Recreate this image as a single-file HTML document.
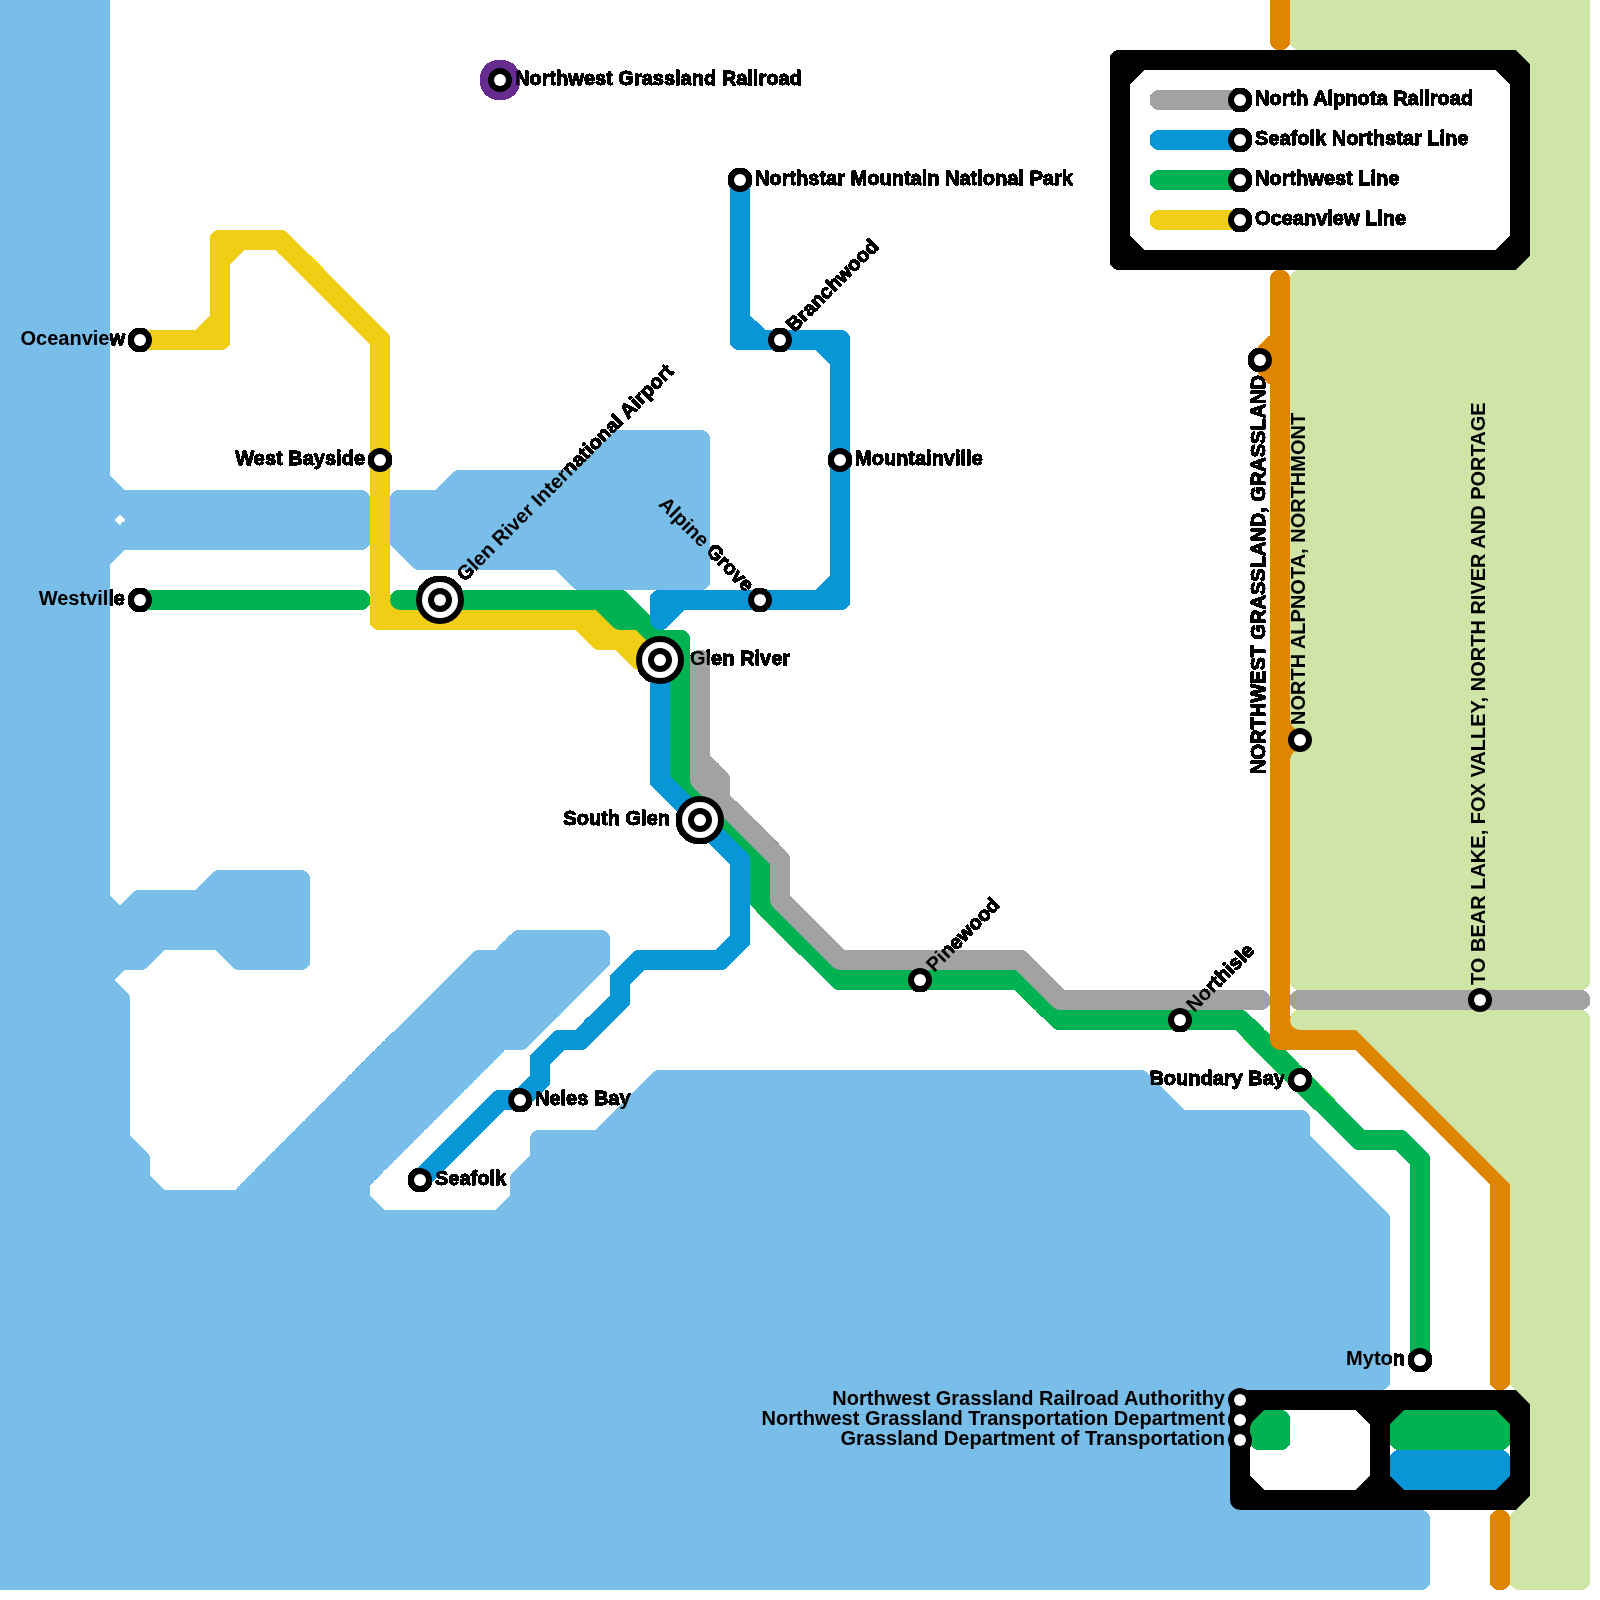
<!DOCTYPE html>
<html><head><meta charset="utf-8"><title>Northwest Grassland Railroad</title>
<style>
html,body{margin:0;padding:0;background:#fff}
svg{display:block}
text{font-family:"Liberation Sans",sans-serif;font-weight:700;font-size:20px;fill:#000;stroke:#000;stroke-opacity:.02;stroke-width:.9px;stroke-linejoin:miter}
</style></head><body>
<svg width="1600" height="1600" viewBox="0 0 1600 1600">
<defs>
<filter id="op" filterUnits="userSpaceOnUse" x="0" y="0" width="1600" height="1600" color-interpolation-filters="sRGB">
<feComponentTransfer><feFuncA type="linear" slope="255" intercept="-1"/></feComponentTransfer>
</filter>
</defs>
<rect width="1600" height="1600" fill="#fff"/>
<g filter="url(#op)">
<g fill="none" stroke-width="20" stroke-linecap="round" stroke-linejoin="round">
<path stroke="#79bde9" d="M0 0L100 0M0 20L100 20M0 40L100 40M0 60L100 60M0 80L100 80M0 100L100 100M0 120L100 120M0 140L100 140M0 160L100 160M0 180L100 180M0 200L100 200M0 220L100 220M0 240L100 240M0 260L100 260M0 280L100 280M0 300L100 300M0 320L100 320M0 340L100 340M0 360L100 360M0 380L100 380M0 400L100 400M0 420L100 420M0 440L100 440M0 460L100 460M0 480L100 480M0 500L360 500M0 520L100 520M0 540L360 540M0 560L100 560M0 580L100 580M0 600L100 600M0 620L100 620M0 640L100 640M0 660L100 660M0 680L100 680M0 700L100 700M0 720L100 720M0 740L100 740M0 760L100 760M0 780L100 780M0 800L100 800M0 820L100 820M0 840L100 840M0 860L100 860M0 880L100 880M0 900L100 900M0 920L300 920M0 940L300 940M0 960L140 960M0 980L100 980M0 1000L120 1000M0 1020L120 1020M0 1040L120 1040M0 1060L120 1060M0 1080L120 1080M0 1100L120 1100M0 1120L120 1120M0 1140L120 1140M0 1160L140 1160M0 1180L140 1180M0 1200L360 1200M0 1220L1380 1220M0 1240L1380 1240M0 1260L1380 1260M0 1280L1380 1280M0 1300L1380 1300M0 1320L1380 1320M0 1340L1380 1340M0 1360L1380 1360M0 1380L1380 1380M0 1400L1220 1400M0 1420L1220 1420M0 1440L1220 1440M0 1460L1220 1460M0 1480L1220 1480M0 1500L1220 1500M0 1520L1420 1520M0 1540L1420 1540M0 1560L1420 1560M0 1580L1420 1580M140 520L360 520M140 900L300 900M220 880L300 880M240 960L300 960M260 1180L360 1180M280 1160L380 1160M300 1140L400 1140M320 1120L420 1120M340 1100L440 1100M360 1080L460 1080M380 1060L480 1060M400 500L700 500M400 520L700 520M400 540L700 540M400 1040L520 1040M420 560L700 560M420 1020L540 1020M440 1000L560 1000M460 480L700 480M460 980L580 980M480 960L600 960M520 940L600 940M520 1180L1340 1180M520 1200L1360 1200M540 1140L1300 1140M540 1160L1320 1160M580 580L700 580M600 460L700 460M620 440L700 440M620 1120L1300 1120M640 1100L1160 1100M660 1080L1140 1080M0 0L0 1580M20 0L20 1580M40 0L40 1580M60 0L60 1580M80 0L80 1580M100 0L100 1580M120 920L120 960M120 1000L120 1580M140 500L140 540M140 900L140 960M140 1160L140 1580M160 500L160 540M160 900L160 940M160 1200L160 1580M180 500L180 540M180 900L180 940M180 1200L180 1580M200 500L200 540M200 900L200 940M200 1200L200 1580M220 500L220 540M220 880L220 940M220 1200L220 1580M240 500L240 540M240 880L240 960M240 1200L240 1580M260 500L260 540M260 880L260 960M260 1180L260 1580M280 500L280 540M280 880L280 960M280 1160L280 1580M300 500L300 540M300 880L300 960M300 1140L300 1580M320 500L320 540M320 1120L320 1580M340 500L340 540M340 1100L340 1580M360 500L360 540M360 1080L360 1580M380 1060L380 1160M380 1220L380 1580M400 500L400 540M400 1040L400 1140M400 1220L400 1580M420 500L420 560M420 1020L420 1120M420 1220L420 1580M440 500L440 560M440 1000L440 1100M440 1220L440 1580M460 480L460 560M460 980L460 1080M460 1220L460 1580M480 480L480 560M480 960L480 1060M480 1220L480 1580M500 480L500 560M500 960L500 1040M500 1220L500 1580M520 480L520 560M520 940L520 1040M520 1180L520 1580M540 480L540 560M540 940L540 1020M540 1140L540 1580M560 480L560 560M560 940L560 1000M560 1140L560 1580M580 480L580 580M580 940L580 980M580 1140L580 1580M600 460L600 580M600 940L600 960M600 1140L600 1580M620 440L620 580M620 1120L620 1580M640 440L640 580M640 1100L640 1580M660 440L660 580M660 1080L660 1580M680 440L680 580M680 1080L680 1580M700 440L700 580M700 1080L700 1580M720 1080L720 1580M740 1080L740 1580M760 1080L760 1580M780 1080L780 1580M800 1080L800 1580M820 1080L820 1580M840 1080L840 1580M860 1080L860 1580M880 1080L880 1580M900 1080L900 1580M920 1080L920 1580M940 1080L940 1580M960 1080L960 1580M980 1080L980 1580M1000 1080L1000 1580M1020 1080L1020 1580M1040 1080L1040 1580M1060 1080L1060 1580M1080 1080L1080 1580M1100 1080L1100 1580M1120 1080L1120 1580M1140 1080L1140 1580M1160 1100L1160 1580M1180 1120L1180 1580M1200 1120L1200 1580M1220 1120L1220 1580M1240 1120L1240 1380M1240 1520L1240 1580M1260 1120L1260 1380M1260 1520L1260 1580M1280 1120L1280 1380M1280 1520L1280 1580M1300 1120L1300 1380M1300 1520L1300 1580M1320 1160L1320 1380M1320 1520L1320 1580M1340 1180L1340 1380M1340 1520L1340 1580M1360 1200L1360 1380M1360 1520L1360 1580M1380 1220L1380 1380M1380 1520L1380 1580M1400 1520L1400 1580M1420 1520L1420 1580M0 0L100 100M0 20L100 120M0 40L100 140M0 60L100 160M0 80L100 180M0 100L100 200M0 120L100 220M0 140L100 240M0 160L100 260M0 180L100 280M0 200L100 300M0 220L100 320M0 240L100 340M0 260L100 360M0 280L100 380M0 300L100 400M0 320L100 420M0 340L100 440M0 360L100 460M0 380L160 540M0 400L100 500M0 420L120 540M0 440L100 540M0 460L100 560M0 480L100 580M0 500L100 600M0 520L100 620M0 540L100 640M0 560L100 660M0 580L100 680M0 600L100 700M0 620L100 720M0 640L100 740M0 660L100 760M0 680L100 780M0 700L100 800M0 720L100 820M0 740L100 840M0 760L100 860M0 780L100 880M0 800L140 940M0 820L140 960M0 840L120 960M0 860L100 960M0 880L120 1000M0 900L120 1020M0 920L120 1040M0 940L120 1060M0 960L120 1080M0 980L120 1100M0 1000L120 1120M0 1020L140 1160M0 1040L540 1580M0 1060L520 1580M0 1080L500 1580M0 1100L480 1580M0 1120L460 1580M0 1140L440 1580M0 1160L420 1580M0 1180L400 1580M0 1200L380 1580M0 1220L360 1580M0 1240L340 1580M0 1260L320 1580M0 1280L300 1580M0 1300L280 1580M0 1320L260 1580M0 1340L240 1580M0 1360L220 1580M0 1380L200 1580M0 1400L180 1580M0 1420L160 1580M0 1440L140 1580M0 1460L120 1580M0 1480L100 1580M0 1500L80 1580M0 1520L60 1580M0 1540L40 1580M0 1560L20 1580M20 0L100 80M40 0L100 60M60 0L100 40M80 0L100 20M140 500L180 540M140 900L180 940M140 920L160 940M160 500L200 540M160 900L200 940M180 500L220 540M180 900L240 960M180 1200L560 1580M200 500L240 540M200 900L260 960M200 1200L580 1580M220 500L260 540M220 880L300 960M220 900L280 960M220 1200L600 1580M240 500L280 540M240 880L300 940M240 1200L620 1580M260 500L300 540M260 880L300 920M260 1180L660 1580M260 1200L640 1580M280 500L320 540M280 880L300 900M280 1160L700 1580M280 1180L680 1580M300 500L340 540M300 1140L740 1580M300 1160L720 1580M320 500L360 540M320 1120L360 1160M320 1140L360 1180M340 500L360 520M340 1100L380 1140M340 1120L380 1160M360 1080L400 1120M360 1100L400 1140M380 1060L420 1100M380 1080L420 1120M400 500L460 560M400 520L440 560M400 540L420 560M400 1040L440 1080M400 1060L440 1100M400 1220L760 1580M420 500L480 560M420 1020L460 1060M420 1040L460 1080M420 1220L780 1580M440 500L500 560M440 1000L480 1040M440 1020L480 1060M440 1220L800 1580M460 480L540 560M460 500L520 560M460 980L520 1040M460 1000L500 1040M460 1220L820 1580M480 480L580 580M480 960L540 1020M480 980L520 1020M480 1220L840 1580M500 480L600 580M500 960L540 1000M500 1220L860 1580M520 480L620 580M520 940L560 980M520 960L560 1000M520 1180L920 1580M520 1200L900 1580M520 1220L880 1580M540 480L640 580M540 940L580 980M540 1140L980 1580M540 1160L960 1580M540 1180L940 1580M560 480L660 580M560 940L580 960M560 1140L1000 1580M580 480L680 580M580 940L600 960M580 1140L1020 1580M600 460L700 560M600 480L700 580M600 1140L1040 1580M620 440L700 520M620 460L700 540M620 1120L1080 1580M620 1140L1060 1580M640 440L700 500M640 1100L1120 1580M640 1120L1100 1580M660 440L700 480M660 1080L1160 1580M660 1100L1140 1580M680 440L700 460M680 1080L1180 1580M700 1080L1200 1580M720 1080L1220 1580M740 1080L1240 1580M760 1080L1260 1580M780 1080L1280 1580M800 1080L1300 1580M820 1080L1220 1480M840 1080L1220 1460M860 1080L1220 1440M880 1080L1220 1420M900 1080L1220 1400M920 1080L1220 1380M940 1080L1240 1380M960 1080L1260 1380M980 1080L1280 1380M1000 1080L1300 1380M1020 1080L1320 1380M1040 1080L1340 1380M1060 1080L1360 1380M1080 1080L1380 1380M1100 1080L1380 1360M1120 1080L1380 1340M1140 1080L1380 1320M1200 1120L1380 1300M1220 1120L1380 1280M1240 1120L1380 1260M1260 1120L1380 1240M1260 1520L1320 1580M1280 1120L1380 1220M1280 1520L1340 1580M1300 1520L1360 1580M1320 1520L1380 1580M1340 1520L1400 1580M1360 1520L1420 1580M1380 1520L1420 1560M1400 1520L1420 1540M0 20L20 0M0 40L40 0M0 60L60 0M0 80L80 0M0 100L100 0M0 120L100 20M0 140L100 40M0 160L100 60M0 180L100 80M0 200L100 100M0 220L100 120M0 240L100 140M0 260L100 160M0 280L100 180M0 300L100 200M0 320L100 220M0 340L100 240M0 360L100 260M0 380L100 280M0 400L100 300M0 420L100 320M0 440L100 340M0 460L100 360M0 480L100 380M0 500L100 400M0 520L100 420M0 540L100 440M0 560L100 460M0 580L100 480M0 600L100 500M0 620L120 500M0 640L100 540M0 660L160 500M0 680L100 580M0 700L100 600M0 720L100 620M0 740L100 640M0 760L100 660M0 780L100 680M0 800L100 700M0 820L100 720M0 840L100 740M0 860L100 760M0 880L100 780M0 900L100 800M0 920L100 820M0 940L100 840M0 960L100 860M0 980L100 880M0 1000L100 900M0 1020L100 920M0 1040L140 900M0 1060L160 900M0 1080L180 900M0 1100L100 1000M0 1120L120 1000M0 1140L120 1020M0 1160L120 1040M0 1180L120 1060M0 1200L120 1080M0 1220L120 1100M0 1240L120 1120M0 1260L120 1140M0 1280L120 1160M0 1300L140 1160M0 1320L140 1180M0 1340L140 1200M0 1360L160 1200M0 1380L180 1200M0 1400L200 1200M0 1420L220 1200M0 1440L480 960M0 1460L520 940M0 1480L540 940M0 1500L560 940M0 1520L580 940M0 1540L600 940M0 1560L360 1200M0 1580L360 1220M20 1580L380 1220M40 1580L400 1220M60 1580L420 1220M80 1580L440 1220M100 1580L460 1220M120 1580L480 1220M140 540L180 500M140 960L220 880M140 1580L580 1140M160 540L200 500M160 1580L660 1080M180 540L220 500M180 940L240 880M180 1580L680 1080M200 540L240 500M200 940L260 880M200 1580L700 1080M220 540L260 500M220 940L280 880M220 1580L720 1080M240 540L280 500M240 940L300 880M240 960L300 900M240 1580L740 1080M260 540L300 500M260 960L300 920M260 1580L760 1080M280 540L320 500M280 960L300 940M280 1580L780 1080M300 540L340 500M300 1580L800 1080M320 540L360 500M320 1580L820 1080M340 540L360 520M340 1580L840 1080M360 1580L860 1080M380 1580L880 1080M400 520L420 500M400 540L460 480M400 1580L900 1080M420 540L480 480M420 560L500 480M420 1580L920 1080M440 560L520 480M440 1580L940 1080M460 560L540 480M460 1580L960 1080M480 560L560 480M480 1580L980 1080M500 560L620 440M500 1580L1000 1080M520 560L640 440M520 1040L600 960M520 1180L560 1140M520 1580L1020 1080M540 560L660 440M540 1580L1040 1080M560 560L680 440M560 1580L1060 1080M580 560L700 440M580 580L700 460M580 1580L1080 1080M600 580L700 480M600 1580L1100 1080M620 580L700 500M620 1580L1120 1080M640 580L700 520M640 1580L1140 1080M660 580L700 540M660 1580L1140 1100M680 580L700 560M680 1580L1160 1100M700 1580L1160 1120M720 1580L1180 1120M740 1580L1200 1120M760 1580L1220 1120M780 1580L1240 1120M800 1580L1260 1120M820 1580L1280 1120M840 1580L1300 1120M860 1580L1300 1140M880 1580L1300 1160M900 1580L1320 1160M920 1580L1320 1180M940 1580L1340 1180M960 1580L1340 1200M980 1580L1360 1200M1000 1580L1360 1220M1020 1580L1380 1220M1040 1580L1380 1240M1060 1580L1220 1420M1080 1580L1220 1440M1100 1580L1220 1460M1120 1580L1220 1480M1140 1580L1220 1500M1160 1580L1220 1520M1180 1580L1240 1520M1200 1580L1260 1520M1220 1580L1280 1520M1240 1580L1300 1520M1260 1380L1380 1260M1260 1580L1320 1520M1280 1380L1380 1280M1280 1580L1340 1520M1300 1380L1380 1300M1300 1580L1360 1520M1320 1380L1380 1320M1320 1580L1380 1520M1340 1380L1380 1340M1340 1580L1400 1520M1360 1380L1380 1360M1360 1580L1420 1520M1380 1580L1420 1540M1400 1580L1420 1560"/>
<path stroke="#f0ce15" d="M140 340L220 340M220 240L280 240M380 620L600 620M600 640L640 640M1160 220L1240 220M220 240L220 340M380 340L380 620M600 620L600 640M640 640L640 660M280 240L380 340M380 600L400 620M580 620L600 640M600 620L640 660M200 340L220 320M220 260L240 240"/>
<path stroke="#00b251" d="M140 600L360 600M400 600L620 600M620 620L640 620M660 640L680 640M840 980L1020 980M1060 1020L1240 1020M1160 180L1240 180M1260 1420L1280 1420M1260 1440L1280 1440M1360 1140L1400 1140M1400 1420L1500 1420M1400 1440L1500 1440M620 600L620 620M680 640L680 780M760 860L760 900M1260 1420L1260 1440M1280 1420L1280 1440M1400 1420L1400 1440M1420 1160L1420 1360M1420 1420L1420 1440M1440 1420L1440 1440M1460 1420L1460 1440M1480 1420L1480 1440M1500 1420L1500 1440M600 600L620 620M620 600L680 660M680 780L760 860M760 900L840 980M1020 980L1060 1020M1240 1020L1360 1140M1260 1420L1280 1440M1400 1140L1420 1160M1400 1420L1420 1440M1420 1420L1440 1440M1440 1420L1460 1440M1460 1420L1480 1440M1480 1420L1500 1440M1260 1440L1280 1420M1400 1440L1420 1420M1420 1440L1440 1420M1440 1440L1460 1420M1460 1440L1480 1420M1480 1440L1500 1420"/>
<path stroke="#a2a2a2" d="M700 780L720 780M840 960L1020 960M1060 1000L1260 1000M1160 100L1240 100M1300 1000L1580 1000M700 660L700 780M720 780L720 800M780 860L780 900M700 760L720 780M700 780L780 860M780 900L840 960M1020 960L1060 1000"/>
<path stroke="#0896d7" d="M500 1100L520 1100M560 1040L580 1040M640 960L720 960M660 600L840 600M740 340L840 340M1160 140L1240 140M1400 1460L1500 1460M1400 1480L1500 1480M540 1060L540 1080M620 980L620 1000M660 600L660 620M660 660L660 780M740 180L740 340M740 860L740 940M840 340L840 600M1400 1460L1400 1480M1420 1460L1420 1480M1440 1460L1440 1480M1460 1460L1460 1480M1480 1460L1480 1480M1500 1460L1500 1480M660 780L740 860M740 320L760 340M820 340L840 360M1400 1460L1420 1480M1420 1460L1440 1480M1440 1460L1460 1480M1460 1460L1480 1480M1480 1460L1500 1480M420 1180L500 1100M520 1100L540 1080M540 1060L560 1040M580 1040L620 1000M620 980L640 960M660 620L680 600M720 960L740 940M820 600L840 580M1400 1480L1420 1460M1420 1480L1440 1460M1440 1480L1460 1460M1460 1480L1480 1460M1480 1480L1500 1460"/>
<path stroke="#df8600" d="M1260 360L1280 360M1280 740L1300 740M1280 1040L1360 1040M1280 0L1280 40M1280 280L1280 1040M1500 1180L1500 1380M1500 1520L1500 1580M1260 360L1280 380M1280 720L1300 740M1280 1020L1300 1040M1360 1040L1500 1180M1260 360L1280 340M1280 760L1300 740"/>
<path stroke="#000000" d="M1120 60L1520 60M1120 260L1520 260M1240 1400L1520 1400M1240 1500L1520 1500M1120 60L1120 260M1240 1400L1240 1500M1380 1400L1380 1500M1520 60L1520 260M1520 1400L1520 1500M1120 240L1140 260M1240 1480L1260 1500M1360 1400L1380 1420M1380 1480L1400 1500M1500 60L1520 80M1500 1400L1520 1420M1120 80L1140 60M1240 1420L1260 1400M1360 1500L1380 1480M1380 1420L1400 1400M1500 260L1520 240M1500 1500L1520 1480"/>
<path stroke="#cfe4a7" d="M1300 0L1580 0M1300 20L1580 20M1300 40L1580 40M1300 280L1580 280M1300 300L1580 300M1300 320L1580 320M1300 340L1580 340M1300 360L1580 360M1300 380L1580 380M1300 400L1580 400M1300 420L1580 420M1300 440L1580 440M1300 460L1580 460M1300 480L1580 480M1300 500L1580 500M1300 520L1580 520M1300 540L1580 540M1300 560L1580 560M1300 580L1580 580M1300 600L1580 600M1300 620L1580 620M1300 640L1580 640M1300 660L1580 660M1300 680L1580 680M1300 700L1580 700M1300 720L1580 720M1300 760L1580 760M1300 780L1580 780M1300 800L1580 800M1300 820L1580 820M1300 840L1580 840M1300 860L1580 860M1300 880L1580 880M1300 900L1580 900M1300 920L1580 920M1300 940L1580 940M1300 960L1580 960M1300 980L1580 980M1300 1020L1580 1020M1320 740L1580 740M1380 1040L1580 1040M1400 1060L1580 1060M1420 1080L1580 1080M1440 1100L1580 1100M1460 1120L1580 1120M1480 1140L1580 1140M1500 1160L1580 1160M1520 1180L1580 1180M1520 1200L1580 1200M1520 1220L1580 1220M1520 1240L1580 1240M1520 1260L1580 1260M1520 1280L1580 1280M1520 1300L1580 1300M1520 1320L1580 1320M1520 1340L1580 1340M1520 1360L1580 1360M1520 1380L1580 1380M1520 1520L1580 1520M1520 1540L1580 1540M1520 1560L1580 1560M1520 1580L1580 1580M1540 60L1580 60M1540 80L1580 80M1540 100L1580 100M1540 120L1580 120M1540 140L1580 140M1540 160L1580 160M1540 180L1580 180M1540 200L1580 200M1540 220L1580 220M1540 240L1580 240M1540 260L1580 260M1540 1400L1580 1400M1540 1420L1580 1420M1540 1440L1580 1440M1540 1460L1580 1460M1540 1480L1580 1480M1540 1500L1580 1500M1300 0L1300 40M1300 280L1300 720M1300 760L1300 980M1320 0L1320 40M1320 280L1320 980M1340 0L1340 40M1340 280L1340 980M1360 0L1360 40M1360 280L1360 980M1380 0L1380 40M1380 280L1380 980M1380 1020L1380 1040M1400 0L1400 40M1400 280L1400 980M1400 1020L1400 1060M1420 0L1420 40M1420 280L1420 980M1420 1020L1420 1080M1440 0L1440 40M1440 280L1440 980M1440 1020L1440 1100M1460 0L1460 40M1460 280L1460 980M1460 1020L1460 1120M1480 0L1480 40M1480 280L1480 980M1480 1020L1480 1140M1500 0L1500 40M1500 280L1500 980M1500 1020L1500 1160M1520 0L1520 40M1520 280L1520 980M1520 1020L1520 1380M1520 1520L1520 1580M1540 0L1540 980M1540 1020L1540 1580M1560 0L1560 980M1560 1020L1560 1580M1580 0L1580 980M1580 1020L1580 1580M1300 0L1340 40M1300 20L1320 40M1300 280L1580 560M1300 300L1580 580M1300 320L1580 600M1300 340L1580 620M1300 360L1580 640M1300 380L1580 660M1300 400L1580 680M1300 420L1580 700M1300 440L1580 720M1300 460L1580 740M1300 480L1580 760M1300 500L1580 780M1300 520L1580 800M1300 540L1580 820M1300 560L1580 840M1300 580L1580 860M1300 600L1580 880M1300 620L1580 900M1300 640L1580 920M1300 660L1580 940M1300 680L1580 960M1300 700L1580 980M1300 720L1560 980M1300 760L1520 980M1300 780L1500 980M1300 800L1480 980M1300 820L1460 980M1300 840L1440 980M1300 860L1420 980M1300 880L1400 980M1300 900L1380 980M1300 920L1360 980M1300 940L1340 980M1300 960L1320 980M1320 0L1360 40M1320 280L1580 540M1320 760L1540 980M1340 0L1380 40M1340 280L1580 520M1360 0L1400 40M1360 280L1580 500M1360 1020L1580 1240M1380 0L1420 40M1380 280L1580 480M1380 1020L1580 1220M1400 0L1440 40M1400 280L1580 460M1400 1020L1580 1200M1420 0L1460 40M1420 280L1580 440M1420 1020L1580 1180M1440 0L1480 40M1440 280L1580 420M1440 1020L1580 1160M1460 0L1500 40M1460 280L1580 400M1460 1020L1580 1140M1480 0L1580 100M1480 280L1580 380M1480 1020L1580 1120M1500 0L1580 80M1500 280L1580 360M1500 1020L1580 1100M1520 0L1580 60M1520 280L1580 340M1520 1020L1580 1080M1520 1200L1580 1260M1520 1220L1580 1280M1520 1240L1580 1300M1520 1260L1580 1320M1520 1280L1580 1340M1520 1300L1580 1360M1520 1320L1580 1380M1520 1340L1580 1400M1520 1360L1580 1420M1520 1380L1580 1440M1520 1520L1580 1580M1520 1540L1560 1580M1520 1560L1540 1580M1540 0L1580 40M1540 80L1580 120M1540 100L1580 140M1540 120L1580 160M1540 140L1580 180M1540 160L1580 200M1540 180L1580 220M1540 200L1580 240M1540 220L1580 260M1540 240L1580 280M1540 260L1580 300M1540 280L1580 320M1540 1020L1580 1060M1540 1420L1580 1460M1540 1440L1580 1480M1540 1460L1580 1500M1540 1480L1580 1520M1540 1500L1580 1540M1540 1520L1580 1560M1560 0L1580 20M1560 1020L1580 1040M1300 20L1320 0M1300 40L1340 0M1300 300L1320 280M1300 320L1340 280M1300 340L1360 280M1300 360L1380 280M1300 380L1400 280M1300 400L1420 280M1300 420L1440 280M1300 440L1460 280M1300 460L1480 280M1300 480L1500 280M1300 500L1580 220M1300 520L1580 240M1300 540L1580 260M1300 560L1580 280M1300 580L1580 300M1300 600L1580 320M1300 620L1580 340M1300 640L1580 360M1300 660L1580 380M1300 680L1580 400M1300 700L1580 420M1300 720L1580 440M1300 760L1580 480M1300 780L1580 500M1300 800L1580 520M1300 820L1580 540M1300 840L1580 560M1300 860L1580 580M1300 880L1580 600M1300 900L1580 620M1300 920L1580 640M1300 940L1580 660M1300 960L1580 680M1300 980L1580 700M1320 40L1360 0M1320 720L1580 460M1320 980L1580 720M1340 40L1380 0M1340 980L1580 740M1360 40L1400 0M1360 980L1580 760M1380 40L1420 0M1380 980L1580 780M1380 1040L1400 1020M1400 40L1440 0M1400 980L1580 800M1400 1040L1420 1020M1400 1060L1440 1020M1420 40L1460 0M1420 980L1580 820M1420 1060L1460 1020M1420 1080L1480 1020M1440 40L1480 0M1440 980L1580 840M1440 1080L1500 1020M1440 1100L1520 1020M1460 40L1500 0M1460 980L1580 860M1460 1100L1540 1020M1460 1120L1560 1020M1480 40L1520 0M1480 980L1580 880M1480 1120L1580 1020M1480 1140L1580 1040M1500 40L1540 0M1500 980L1580 900M1500 1140L1580 1060M1500 1160L1580 1080M1520 40L1560 0M1520 980L1580 920M1520 1160L1580 1100M1520 1180L1580 1120M1520 1200L1580 1140M1520 1220L1580 1160M1520 1240L1580 1180M1520 1260L1580 1200M1520 1280L1580 1220M1520 1300L1580 1240M1520 1320L1580 1260M1520 1340L1580 1280M1520 1360L1580 1300M1520 1380L1580 1320M1520 1520L1580 1460M1520 1540L1580 1480M1520 1560L1580 1500M1520 1580L1580 1520M1540 40L1580 0M1540 60L1580 20M1540 80L1580 40M1540 100L1580 60M1540 120L1580 80M1540 140L1580 100M1540 160L1580 120M1540 180L1580 140M1540 200L1580 160M1540 220L1580 180M1540 240L1580 200M1540 980L1580 940M1540 1380L1580 1340M1540 1400L1580 1360M1540 1420L1580 1380M1540 1440L1580 1400M1540 1460L1580 1420M1540 1480L1580 1440M1540 1580L1580 1540M1560 980L1580 960M1560 1580L1580 1560"/>
<path stroke="#662c90" d=""/>
<circle cx="500" cy="80" r="20" fill="#662c90" stroke="none"/>
</g>
<g fill="#000" stroke="none">
<circle cx="500" cy="80" r="12"/><circle cx="500" cy="80" r="6" fill="#fff"/>
<circle cx="740" cy="180" r="12"/><circle cx="740" cy="180" r="6" fill="#fff"/>
<circle cx="780" cy="340" r="12"/><circle cx="780" cy="340" r="6" fill="#fff"/>
<circle cx="840" cy="460" r="12"/><circle cx="840" cy="460" r="6" fill="#fff"/>
<circle cx="760" cy="600" r="12"/><circle cx="760" cy="600" r="6" fill="#fff"/>
<circle cx="140" cy="340" r="12"/><circle cx="140" cy="340" r="6" fill="#fff"/>
<circle cx="380" cy="460" r="12"/><circle cx="380" cy="460" r="6" fill="#fff"/>
<circle cx="140" cy="600" r="12"/><circle cx="140" cy="600" r="6" fill="#fff"/>
<circle cx="440" cy="600" r="24"/><circle cx="440" cy="600" r="18" fill="#fff"/>
<circle cx="440" cy="600" r="12"/><circle cx="440" cy="600" r="6" fill="#fff"/>
<circle cx="660" cy="660" r="24"/><circle cx="660" cy="660" r="18" fill="#fff"/>
<circle cx="660" cy="660" r="12"/><circle cx="660" cy="660" r="6" fill="#fff"/>
<circle cx="700" cy="820" r="24"/><circle cx="700" cy="820" r="18" fill="#fff"/>
<circle cx="700" cy="820" r="12"/><circle cx="700" cy="820" r="6" fill="#fff"/>
<circle cx="920" cy="980" r="12"/><circle cx="920" cy="980" r="6" fill="#fff"/>
<circle cx="1180" cy="1020" r="12"/><circle cx="1180" cy="1020" r="6" fill="#fff"/>
<circle cx="1300" cy="1080" r="12"/><circle cx="1300" cy="1080" r="6" fill="#fff"/>
<circle cx="1420" cy="1360" r="12"/><circle cx="1420" cy="1360" r="6" fill="#fff"/>
<circle cx="520" cy="1100" r="12"/><circle cx="520" cy="1100" r="6" fill="#fff"/>
<circle cx="420" cy="1180" r="12"/><circle cx="420" cy="1180" r="6" fill="#fff"/>
<circle cx="1260" cy="360" r="12"/><circle cx="1260" cy="360" r="6" fill="#fff"/>
<circle cx="1300" cy="740" r="12"/><circle cx="1300" cy="740" r="6" fill="#fff"/>
<circle cx="1480" cy="1000" r="12"/><circle cx="1480" cy="1000" r="6" fill="#fff"/>
<circle cx="1240" cy="100" r="12"/><circle cx="1240" cy="100" r="6" fill="#fff"/>
<circle cx="1240" cy="140" r="12"/><circle cx="1240" cy="140" r="6" fill="#fff"/>
<circle cx="1240" cy="180" r="12"/><circle cx="1240" cy="180" r="6" fill="#fff"/>
<circle cx="1240" cy="220" r="12"/><circle cx="1240" cy="220" r="6" fill="#fff"/>
<circle cx="1240" cy="1400" r="12"/><circle cx="1240" cy="1400" r="6" fill="#fff"/>
<circle cx="1240" cy="1420" r="12"/><circle cx="1240" cy="1420" r="6" fill="#fff"/>
<circle cx="1240" cy="1440" r="12"/><circle cx="1240" cy="1440" r="6" fill="#fff"/>
</g>
<g>
<text x="515" y="85">Northwest Grassland Railroad</text>
<text x="755" y="185">Northstar Mountain National Park</text>
<text transform="translate(780,340) rotate(-45)" x="15" y="5">Branchwood</text>
<text x="855" y="465">Mountainville</text>
<text transform="translate(760,600) rotate(45)" x="-15" y="5" text-anchor="end">Alpine Grove</text>
<text x="125" y="345" text-anchor="end">Oceanview</text>
<text x="365" y="465" text-anchor="end">West Bayside</text>
<text x="125" y="605" text-anchor="end">Westville</text>
<text transform="translate(440,600) rotate(-45)" x="30" y="5">Glen River International Airport</text>
<text x="690" y="665">Glen River</text>
<text x="670" y="825" text-anchor="end">South Glen</text>
<text transform="translate(920,980) rotate(-45)" x="15" y="5">Pinewood</text>
<text transform="translate(1180,1020) rotate(-45)" x="15" y="5">Northisle</text>
<text x="1285" y="1085" text-anchor="end">Boundary Bay</text>
<text x="1405" y="1365" text-anchor="end">Myton</text>
<text x="535" y="1105">Neles Bay</text>
<text x="435" y="1185">Seafolk</text>
<text transform="translate(1260,360) rotate(-90)" x="-15" y="5" text-anchor="end">NORTHWEST GRASSLAND, GRASSLAND</text>
<text transform="translate(1300,740) rotate(-90)" x="15" y="5">NORTH ALPNOTA, NORTHMONT</text>
<text transform="translate(1480,1000) rotate(-90)" x="15" y="5">TO BEAR LAKE, FOX VALLEY, NORTH RIVER AND PORTAGE</text>
<text x="1255" y="105">North Alpnota Railroad</text>
<text x="1255" y="145">Seafolk Northstar Line</text>
<text x="1255" y="185">Northwest Line</text>
<text x="1255" y="225">Oceanview Line</text>
<text x="1225" y="1405" text-anchor="end">Northwest Grassland Railroad Authorithy</text>
<text x="1225" y="1425" text-anchor="end">Northwest Grassland Transportation Department</text>
<text x="1225" y="1445" text-anchor="end">Grassland Department of Transportation</text>
</g>
</g>
</svg>
</body></html>
